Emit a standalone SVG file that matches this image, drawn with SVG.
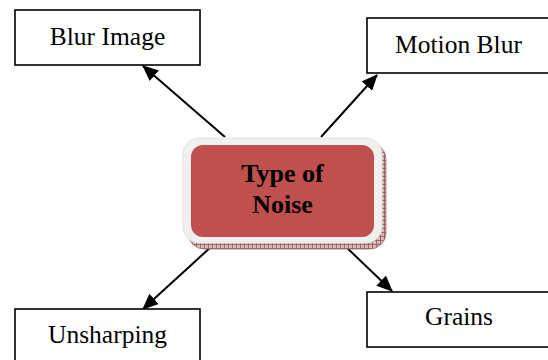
<svg xmlns="http://www.w3.org/2000/svg" width="548" height="360" viewBox="0 0 548 360">
  <defs>
    <marker id="arrow" markerUnits="userSpaceOnUse" markerWidth="16" markerHeight="14" refX="15" refY="7" orient="auto">
      <path d="M0,0 L16,7 L0,14 Z" fill="#000"/>
    </marker>
    <pattern id="hatch" width="4" height="4" patternUnits="userSpaceOnUse">
      <rect width="4" height="4" fill="#d9b8b8"/>
      <path d="M0,0.5 H4 M0.5,0 V4" stroke="#8f5454" stroke-width="0.8"/>
    </pattern>
    <style>
      .box { fill: #fff; stroke: #000; stroke-width: 1.6; }
      .label { font-family: "Liberation Serif", "Times New Roman", serif; font-size: 25.5px; fill: #000; text-anchor: middle; }
      .title { font-family: "Liberation Serif", "Times New Roman", serif; font-size: 26px; font-weight: bold; fill: #000; text-anchor: middle; }
      .edge { stroke: #000; stroke-width: 2; fill: none; marker-end: url(#arrow); }
    </style>
  </defs>

  <rect width="548" height="360" fill="#fff"/>

  <!-- connectors -->
  <g id="connectors">
    <line class="edge" x1="225" y1="137" x2="143" y2="66"/>
    <line class="edge" x1="321" y1="137" x2="377" y2="75"/>
    <line class="edge" x1="212" y1="246" x2="143" y2="309"/>
    <line class="edge" x1="344" y1="245" x2="392" y2="291"/>
  </g>

  <!-- central node -->
  <g id="type-of-noise">
    <rect x="188" y="143" width="198" height="106" rx="16" fill="url(#hatch)" stroke="#a07070" stroke-width="0.8"/>
    <rect x="183" y="138" width="199" height="105" rx="16" fill="#f0f0f0" stroke="#e2e2e2" stroke-width="1"/>
    <rect x="191" y="145" width="183" height="92" rx="12" fill="#c0504d"/>
    <text class="title" x="282.5" y="182">Type of</text>
    <text class="title" x="282.5" y="213">Noise</text>
  </g>

  <g id="blur-image">
    <rect class="box" x="15" y="10" width="185" height="55"/>
    <text class="label" x="107.5" y="45">Blur Image</text>
  </g>

  <g id="motion-blur">
    <rect class="box" x="367" y="18" width="183" height="55"/>
    <text class="label" x="458.5" y="53">Motion Blur</text>
  </g>

  <g id="unsharping">
    <rect class="box" x="15" y="309" width="185" height="60"/>
    <text class="label" x="107.5" y="343">Unsharping</text>
  </g>

  <g id="grains">
    <rect class="box" x="367" y="292" width="183" height="55"/>
    <text class="label" x="459" y="325">Grains</text>
  </g>
</svg>
